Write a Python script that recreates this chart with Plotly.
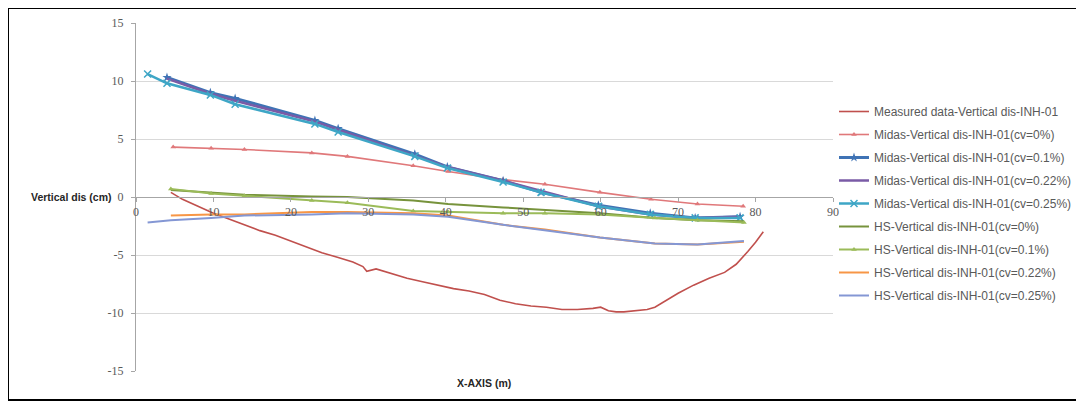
import plotly.graph_objects as go

# ---------------- data ----------------
meas_x = [4.5, 6, 8, 10, 12, 14, 16, 18, 20, 22, 24, 26, 28, 29.3, 29.8, 31, 33, 35, 37, 39, 41,
          43, 45, 47, 49, 51, 53, 55, 57, 59, 60, 61, 62, 63, 65, 66, 67, 68.5, 70, 72, 74, 76,
          77.5, 79, 80, 81]
meas_y = [0.4, -0.2, -0.8, -1.4, -1.9, -2.4, -2.9, -3.3, -3.8, -4.3, -4.8, -5.2, -5.6, -6.0, -6.4,
          -6.2, -6.6, -7.0, -7.3, -7.6, -7.9, -8.1, -8.4, -8.9, -9.2, -9.4, -9.5, -9.7, -9.7, -9.6,
          -9.5, -9.8, -9.9, -9.9, -9.8, -9.7, -9.5, -8.9, -8.3, -7.6, -7.0, -6.5, -5.8, -4.7, -3.9,
          -3.0]

midas_x = [4, 9.6, 12.8, 23.1, 26.1, 36, 40.2, 47.4, 52.3, 59.7, 66.4, 72.2, 78]
midas_0_x = [4.8, 9.7, 14, 22.7, 27.3, 35.8, 40.3, 47.4, 52.8, 59.9, 66.5, 72.5, 78.4]
midas_0 = [4.3, 4.2, 4.1, 3.8, 3.5, 2.7, 2.2, 1.5, 1.1, 0.4, -0.2, -0.6, -0.8]
midas_01 = [10.3, 9.0, 8.5, 6.6, 5.9, 3.7, 2.6, 1.4, 0.4, -0.7, -1.4, -1.8, -1.7]
midas_022 = [10.2, 8.9, 8.3, 6.5, 5.8, 3.6, 2.6, 1.4, 0.5, -0.8, -1.5, -1.8, -1.7]
midas_025_x = [1.5, 4, 9.6, 12.8, 23.1, 26.1, 36, 40.2, 47.4, 52.3, 59.7, 66.4, 72.2, 78]
midas_025 = [10.6, 9.8, 8.8, 8.0, 6.3, 5.6, 3.5, 2.5, 1.3, 0.4, -0.8, -1.5, -1.8, -1.8]

hs_x = [4.5, 9.7, 14, 22.7, 27.3, 35.8, 40.3, 47.4, 52.8, 59.9, 67, 72.5, 78.5]
hs_0 = [0.6, 0.35, 0.2, 0.05, 0.0, -0.3, -0.6, -0.9, -1.1, -1.4, -1.8, -2.0, -2.1]
hs_01 = [0.7, 0.3, 0.1, -0.3, -0.5, -1.2, -1.3, -1.4, -1.4, -1.5, -1.8, -2.0, -2.2]
hs_022 = [-1.6, -1.5, -1.5, -1.3, -1.3, -1.4, -1.6, -2.4, -2.8, -3.5, -4.0, -4.1, -3.85]
hs_025_x = [1.5, 4.5, 9.7, 14, 22.7, 27.3, 35.8, 40.3, 47.4, 52.8, 59.9, 67, 72.5, 78.5]
hs_025 = [-2.2, -2.0, -1.8, -1.6, -1.5, -1.4, -1.5, -1.7, -2.4, -2.9, -3.5, -4.0, -4.1, -3.8]

names = [
    "Measured data-Vertical dis-INH-01",
    "Midas-Vertical dis-INH-01(cv=0%)",
    "Midas-Vertical dis-INH-01(cv=0.1%)",
    "Midas-Vertical dis-INH-01(cv=0.22%)",
    "Midas-Vertical dis-INH-01(cv=0.25%)",
    "HS-Vertical dis-INH-01(cv=0%)",
    "HS-Vertical dis-INH-01(cv=0.1%)",
    "HS-Vertical dis-INH-01(cv=0.22%)",
    "HS-Vertical dis-INH-01(cv=0.25%)",
]
x_ticks = [0, 10, 20, 30, 40, 50, 60, 70, 80, 90]
y_ticks = [-15, -10, -5, 0, 5, 10, 15]

# ---------------- figure ----------------
fig = go.Figure()

series = [
    (meas_x, meas_y, "#C0504D", 1.6, None),
    (midas_0_x, midas_0, "#E0787A", 1.6, dict(symbol="triangle-up", size=5)),
    (midas_x, midas_01, "#3F73B5", 3, dict(symbol="star", size=7)),
    (midas_x, midas_022, "#7A5BA6", 2.5, None),
    (midas_025_x, midas_025, "#3EA6C6", 2.5, dict(symbol="x-thin-open", size=7, line=dict(width=1.5, color="#3EA6C6"))),
    (hs_x, hs_0, "#77933C", 2, None),
    (hs_x, hs_01, "#9BBB59", 2, dict(symbol="triangle-up", size=5)),
    (hs_x, hs_022, "#F79646", 2, None),
    (hs_025_x, hs_025, "#8497D4", 2, None),
]

for i, (xs, ys, col, w, mk) in enumerate(series):
    fig.add_trace(go.Scatter(
        x=xs, y=ys, name=names[i], legendgroup=str(i),
        mode="lines+markers" if mk else "lines",
        line=dict(color=col, width=w),
        marker=dict(color=col, **mk) if mk else None,
    ))

W, H = 1076, 397
L, T, PW, PH = 128, 15, 697, 348
R, B = W - L - PW, H - T - PH

def px(x):
    return (x - L) / PW

def py(y):
    return (H - B - y) / PH

fig.update_layout(
    width=W, height=H,
    margin=dict(l=L, r=R, t=T, b=B, autoexpand=False),
    paper_bgcolor="white", plot_bgcolor="white",
    font=dict(family="Liberation Sans, Arial, sans-serif", size=9, color="#595959"),
    showlegend=True,
    legend=dict(x=px(826), y=py(89), xanchor="left", yanchor="top",
                font=dict(size=12, color="#595959"), tracegroupgap=4,
                traceorder="grouped", bgcolor="rgba(0,0,0,0)"),
    xaxis=dict(range=[0, 90], tickvals=x_ticks, ticktext=[str(v) for v in x_ticks],
               anchor="free", position=0.5, showgrid=False, zeroline=False,
               showline=True, linecolor="#A6A6A6", linewidth=1,
               ticks="outside", ticklen=4, tickcolor="#A6A6A6",
               tickfont=dict(family="Liberation Serif, serif", size=12, color="#595959")),
    yaxis=dict(range=[-15, 15], tickvals=y_ticks, ticktext=[str(v) for v in y_ticks],
               showgrid=True, gridcolor="#D9D9D9", gridwidth=1, zeroline=False,
               showline=True, linecolor="#A6A6A6", linewidth=1,
               ticks="outside", ticklen=4, tickcolor="#A6A6A6", ticklabelstandoff=5,
               tickfont=dict(family="Liberation Serif, serif", size=12, color="#595959")),
    annotations=[
        dict(text="<b>Vertical dis (cm)</b>", xref="paper", yref="y", x=px(106), y=0,
             xanchor="right", yanchor="middle", showarrow=False,
             font=dict(size=10.5, color="#262626")),
        dict(text="<b>X-AXIS (m)</b>", xref="paper", yref="paper", x=px(476), y=py(375),
             xanchor="center", yanchor="middle", showarrow=False,
             font=dict(size=10.5, color="#262626")),
    ],
    shapes=[
        dict(type="rect", xref="paper", yref="paper", x0=px(0), x1=px(1070), y0=py(392), y1=py(0),
             line=dict(color="black", width=2), fillcolor="rgba(0,0,0,0)", layer="below"),
    ],
)

fig.write_html("out.html")
